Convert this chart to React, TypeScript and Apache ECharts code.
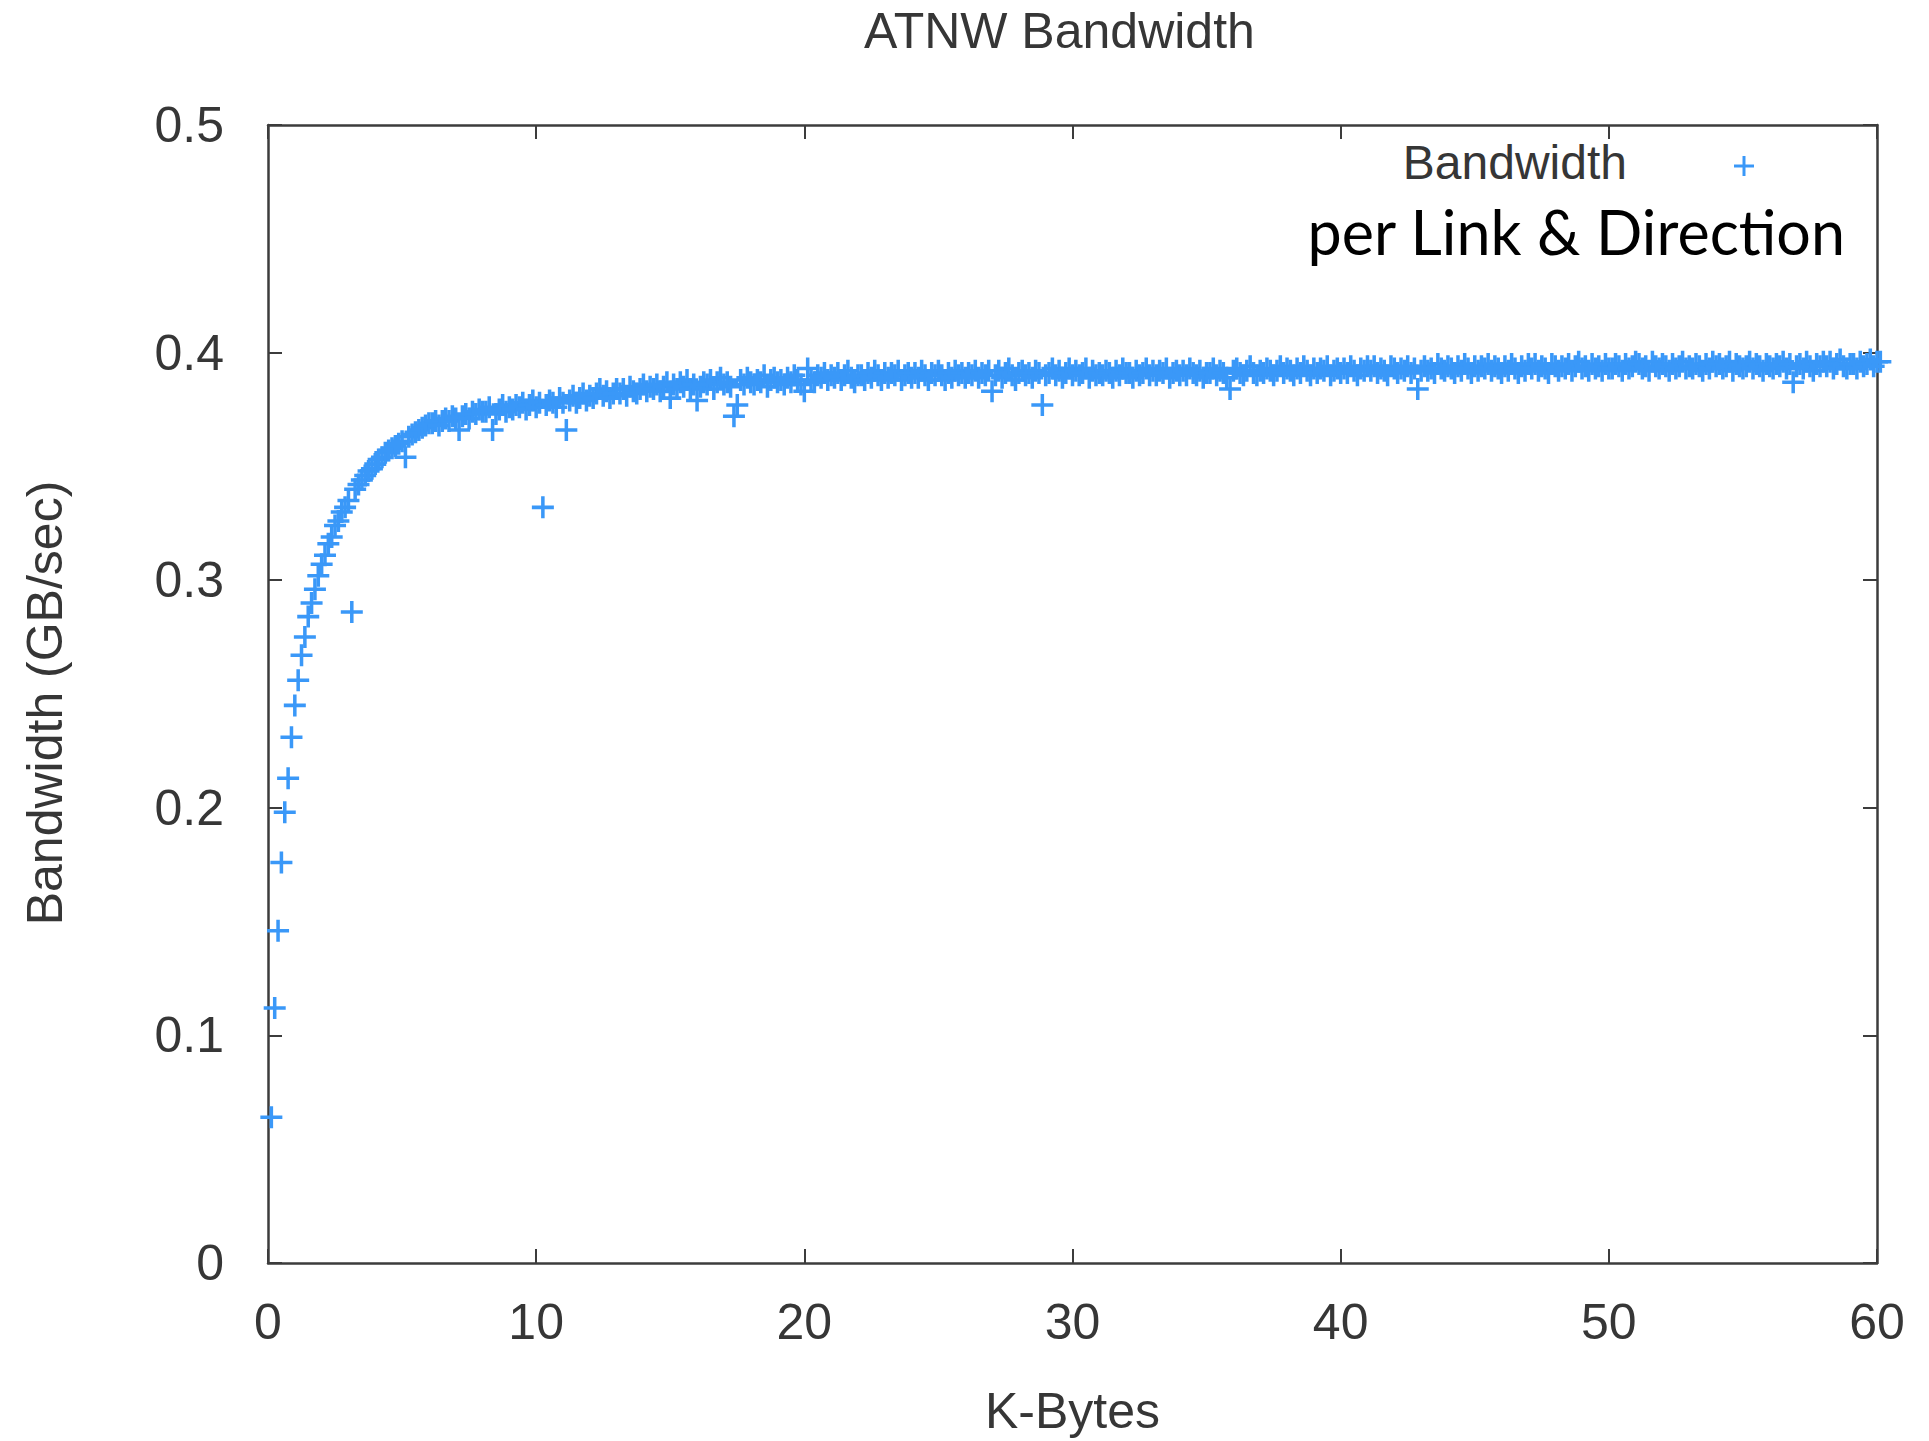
import React, { useEffect, useRef } from 'react';
import * as echarts from 'echarts';

const TITLE = 'ATNW Bandwidth';
const X_NAME = 'K-Bytes';
const Y_NAME = 'Bandwidth (GB/sec)';
const SERIES_NAME = 'Bandwidth';
const NOTE = 'per Link & Direction';
const X_TICKS = [0, 10, 20, 30, 40, 50, 60];
const Y_TICKS = [0, 0.1, 0.2, 0.3, 0.4, 0.5];
// message sizes are sampled every 128 bytes (0.125 K)
const SIZE_STEP_KB = 0.125;

// bandwidth (GB/sec), 8 samples per K-Byte
const bandwidth = [
  // 0 - 1 K
  .064, .112, .146, .176, .198, .213, .231, .245,
  // 1 - 2
  .256, .267, .275, .284, .290, .296, .302, .307,
  // 2 - 3
  .311, .316, .319, .324, .326, .330, .332, .335,
  // 3 - 4
  .286, .340, .342, .344, .346, .348, .349, .351,
  // 4 - 5
  .353, .354, .356, .357, .358, .359, .360, .361,
  // 5 - 6
  .354, .363, .364, .365, .366, .367, .368, .369,
  // 6 - 7
  .369, .370, .368, .370, .371, .370, .372, .371,
  // 7 - 8
  .366, .372, .373, .371, .374, .373, .375, .374,
  // 8 - 9
  .374, .376, .366, .373, .375, .377, .374, .376,
  // 9 - 10
  .375, .377, .376, .378, .375, .377, .379, .376,
  // 10 - 11
  .378, .332, .377, .379, .378, .376, .380, .378,
  // 11 - 12
  .366, .379, .381, .378, .380, .382, .379, .381,
  // 12 - 13
  .380, .382, .384, .381, .383, .380, .382, .384,
  // 13 - 14
  .382, .384, .381, .385, .383, .382, .384, .386,
  // 14 - 15
  .383, .385, .384, .386, .383, .385, .387, .380,
  // 15 - 16
  .386, .384, .387, .385, .388, .384, .386, .379,
  // 16 - 17
  .385, .387, .386, .388, .384, .387, .389, .386,
  // 17 - 18
  .387, .385, .372, .377, .388, .386, .389, .387,
  // 18 - 19
  .386, .388, .387, .390, .385, .388, .389, .387,
  // 19 - 20
  .388, .386, .389, .387, .390, .388, .386, .383,
  // 20 - 21
  .393, .388, .387, .390, .389, .391, .388, .390,
  // 21 - 22
  .389, .391, .388, .390, .392, .389, .387, .390,
  // 22 - 23
  .390, .388, .391, .389, .392, .390, .388, .391,
  // 23 - 24
  .389, .391, .390, .392, .388, .390, .391, .389,
  // 24 - 25
  .391, .389, .392, .390, .388, .391, .390, .392,
  // 25 - 26
  .390, .388, .391, .389, .392, .390, .391, .389,
  // 26 - 27
  .391, .390, .392, .389, .391, .390, .392, .383,
  // 27 - 28
  .390, .392, .389, .391, .393, .390, .388, .391,
  // 28 - 29
  .392, .390, .391, .389, .392, .391, .377, .390,
  // 29 - 30
  .391, .393, .390, .392, .389, .391, .393, .390,
  // 30 - 31
  .392, .390, .391, .393, .389, .392, .390, .391,
  // 31 - 32
  .390, .392, .391, .389, .392, .390, .393, .391,
  // 32 - 33
  .391, .389, .392, .390, .391, .393, .390, .392,
  // 33 - 34
  .390, .392, .391, .393, .389, .391, .392, .390,
  // 34 - 35
  .392, .390, .393, .391, .390, .392, .389, .391,
  // 35 - 36
  .391, .393, .390, .392, .391, .389, .384, .392,
  // 36 - 37
  .393, .391, .390, .392, .394, .391, .390, .392,
  // 37 - 38
  .391, .393, .392, .390, .392, .394, .391, .393,
  // 38 - 39
  .392, .390, .393, .391, .394, .392, .390, .393,
  // 39 - 40
  .391, .393, .392, .394, .390, .392, .393, .391,
  // 40 - 41
  .393, .391, .394, .392, .390, .393, .392, .394,
  // 41 - 42
  .392, .394, .391, .393, .392, .390, .394, .393,
  // 42 - 43
  .391, .393, .392, .394, .391, .393, .384, .392,
  // 43 - 44
  .394, .392, .393, .391, .395, .393, .392, .394,
  // 44 - 45
  .393, .391, .394, .392, .395, .393, .391, .394,
  // 45 - 46
  .392, .394, .393, .395, .392, .394, .393, .391,
  // 46 - 47
  .394, .392, .395, .393, .391, .394, .392, .395,
  // 47 - 48
  .393, .395, .392, .394, .393, .391, .395, .394,
  // 48 - 49
  .392, .394, .393, .395, .392, .394, .396, .393,
  // 49 - 50
  .394, .392, .395, .393, .394, .392, .395, .393,
  // 50 - 51
  .393, .395, .394, .392, .395, .393, .394, .396,
  // 51 - 52
  .395, .393, .394, .392, .396, .394, .393, .395,
  // 52 - 53
  .394, .392, .395, .393, .394, .396, .393, .394,
  // 53 - 54
  .393, .395, .394, .392, .395, .393, .396, .394,
  // 54 - 55
  .395, .393, .394, .396, .392, .395, .394, .393,
  // 55 - 56
  .394, .396, .393, .395, .394, .392, .395, .394,
  // 56 - 57
  .393, .395, .394, .396, .393, .395, .387, .394,
  // 57 - 58
  .395, .393, .396, .394, .392, .395, .394, .396,
  // 58 - 59
  .394, .396, .393, .395, .397, .394, .393, .395,
  // 59 - 60
  .395, .393, .396, .394, .395, .397, .394, .396,
  // just past 60
  .396,
];

const BLUE = '#3a98f8';
const FRAME = '#3c3c3c';
const TEXT = '#363636';
const FONT = 'Liberation Sans';
const PLUS = 'path://M0,42H100V58H0Z M42,0H58V100H42Z';

export default function App() {
  const ref = useRef<HTMLDivElement>(null);

  useEffect(() => {
    if (!ref.current) return;
    const chart = echarts.init(ref.current, undefined, { renderer: 'svg' });

    const points = bandwidth.map((v, i) => [(i + 1) * SIZE_STEP_KB, v]);
    const xMin = X_TICKS[0];
    const xMax = X_TICKS[X_TICKS.length - 1];
    const xInt = X_TICKS[1] - X_TICKS[0];
    const yMin = Y_TICKS[0];
    const yMax = Y_TICKS[Y_TICKS.length - 1];
    const yInt = Y_TICKS[1] - Y_TICKS[0];

    const tick = { show: true, inside: true, length: 14, lineStyle: { color: FRAME, width: 2 } };
    const line = { show: true, onZero: false, lineStyle: { color: FRAME, width: 2.5 } };

    chart.setOption({
      animation: false,
      backgroundColor: '#ffffff',
      textStyle: { fontFamily: FONT },
      title: {
        text: TITLE,
        left: 859,
        top: 1,
        textStyle: { fontFamily: FONT, fontSize: 50, fontWeight: 'normal', color: TEXT },
      },
      grid: { left: 268, right: 52, top: 125, bottom: 173, containLabel: false },
      xAxis: [
        {
          type: 'value',
          position: 'bottom',
          min: xMin,
          max: xMax,
          interval: xInt,
          name: X_NAME,
          nameLocation: 'middle',
          nameGap: 123,
          nameTextStyle: { fontFamily: FONT, fontSize: 50, color: TEXT },
          axisLine: line,
          axisTick: tick,
          splitLine: { show: false },
          axisLabel: { fontFamily: FONT, fontSize: 50, color: TEXT, margin: 34 },
        },
        {
          type: 'value',
          position: 'top',
          min: xMin,
          max: xMax,
          interval: xInt,
          axisLine: line,
          axisTick: tick,
          splitLine: { show: false },
          axisLabel: { show: false },
        },
      ],
      yAxis: [
        {
          type: 'value',
          position: 'left',
          min: yMin,
          max: yMax,
          interval: yInt,
          name: Y_NAME,
          nameLocation: 'middle',
          nameGap: 198,
          nameTextStyle: { fontFamily: FONT, fontSize: 50, color: TEXT, padding: [0, 18, 0, 0] },
          axisLine: line,
          axisTick: tick,
          splitLine: { show: false },
          axisLabel: { fontFamily: FONT, fontSize: 50, color: TEXT, margin: 44 },
        },
        {
          type: 'value',
          position: 'right',
          min: yMin,
          max: yMax,
          interval: yInt,
          axisLine: line,
          axisTick: tick,
          splitLine: { show: false },
          axisLabel: { show: false },
        },
      ],
      series: [
        {
          name: SERIES_NAME,
          type: 'scatter',
          xAxisIndex: 0,
          yAxisIndex: 0,
          data: points,
          symbol: PLUS,
          symbolSize: 22,
          clip: false,
          itemStyle: { color: BLUE, opacity: 1 },
          emphasis: { disabled: true },
        },
      ],
      graphic: [
        {
          type: 'text',
          x: 1627,
          y: 162,
          style: {
            text: SERIES_NAME,
            fontFamily: FONT,
            fontSize: 48,
            fill: TEXT,
            align: 'right',
            verticalAlign: 'middle',
          },
        },
        {
          type: 'line',
          shape: { x1: 1734, y1: 166, x2: 1754, y2: 166 },
          style: { stroke: BLUE, lineWidth: 3 },
        },
        {
          type: 'line',
          shape: { x1: 1744, y1: 156, x2: 1744, y2: 176 },
          style: { stroke: BLUE, lineWidth: 3 },
        },
        {
          type: 'text',
          x: 1845,
          y: 231,
          style: {
            text: NOTE,
            fontFamily: 'Lato',
            fontSize: 61,
            fill: '#000000',
            align: 'right',
            verticalAlign: 'middle',
          },
        },
      ],
    });

    return () => chart.dispose();
  }, []);

  return (
    <div
      ref={ref}
      style={{ position: 'fixed', left: 0, top: 0, width: 1929, height: 1441, background: '#fff' }}
    />
  );
}
